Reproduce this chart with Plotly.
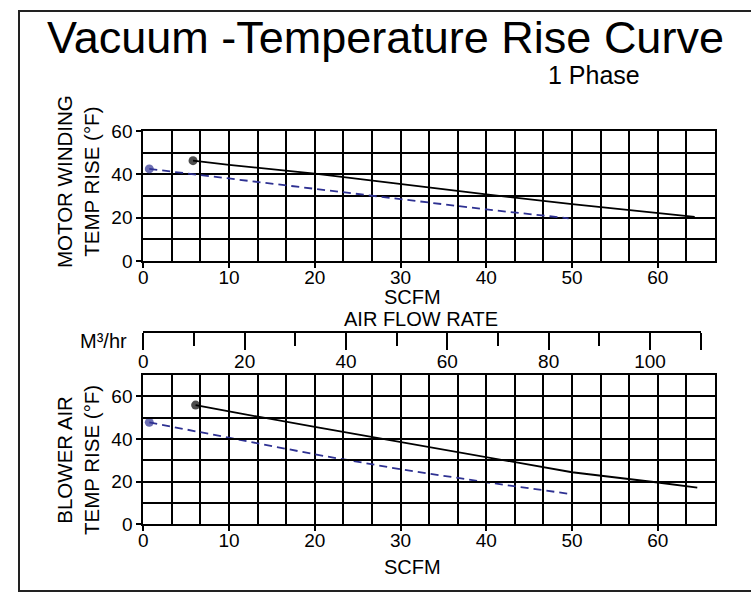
import plotly.graph_objects as go

# ---------------- data ----------------
motor_scfm_1ph = [5.8, 10, 20, 30, 40, 50, 60, 64.3]
motor_temp_1ph = [46.3, 44.4, 40.3, 35.5, 30.7, 26.3, 22.3, 20.4]
motor_scfm_blue = [0.7, 10, 20, 30, 40, 49.6]
motor_temp_blue = [42.5, 38.0, 33.2, 28.6, 23.8, 19.7]

blower_scfm_1ph = [6.1, 10, 20, 30, 40, 50, 60, 64.6]
blower_temp_1ph = [55.9, 52.9, 45.7, 38.7, 31.7, 24.4, 19.6, 17.2]
blower_scfm_blue = [0.7, 10, 20, 30, 40, 50]
blower_temp_blue = [47.8, 40.6, 32.8, 25.8, 19.7, 14.1]

scfm_ticks = [0, 10, 20, 30, 40, 50, 60]
motor_temp_ticks = [0, 20, 40, 60]
blower_temp_ticks = [0, 20, 40, 60]
m3hr_ticks = [0, 20, 40, 60, 80, 100, 110]
m3hr_ticktext = ["0", "20", "40", "60", "80", "100", ""]

W, H = 751, 593
FONT = "Liberation Sans, Arial, sans-serif"
BLUE = "#2e3192"


def px(x):
    return x / W


def py(y):
    return 1 - y / H


def sizes(n):
    return [9] + [0] * (n - 1)


fig = go.Figure()

def add_series(xs, ys, color, dash, xa, ya):
    fig.add_trace(go.Scatter(
        x=xs, y=ys, xaxis=xa, yaxis=ya, mode="lines+markers",
        line=dict(color=color, width=1.8, dash=dash),
        marker=dict(color=color, size=sizes(len(xs)), line=dict(width=0)),
        showlegend=False, hoverinfo="skip"))

add_series(motor_scfm_blue, motor_temp_blue, BLUE, "8px,5px", "x", "y")
add_series(motor_scfm_1ph, motor_temp_1ph, "black", "solid", "x", "y")
add_series(blower_scfm_blue, blower_temp_blue, BLUE, "8px,5px", "x2", "y2")
add_series(blower_scfm_1ph, blower_temp_1ph, "black", "solid", "x2", "y2")

# invisible trace so the M3/hr axis is drawn
fig.add_trace(go.Scatter(x=[m3hr_ticks[0], m3hr_ticks[-1]], y=[0, 0], xaxis="x3", yaxis="y2",
                         mode="markers", marker=dict(opacity=0), showlegend=False, hoverinfo="skip"))

tick_font = dict(family=FONT, size=19, color="black")

def xax(domain, anchor):
    return dict(domain=domain, anchor=anchor, range=[0, 200 / 3], tickmode="array", tickvals=scfm_ticks,
                ticks="outside", ticklen=5, tickwidth=2, tickcolor="black",
                showgrid=True, gridcolor="black", gridwidth=2,
                minor=dict(dtick=10 / 3, tick0=0, showgrid=True, gridcolor="black", gridwidth=2),
                showline=True, mirror=True, linecolor="black", linewidth=2, zeroline=False,
                tickfont=tick_font, ticklabelstandoff=-7, automargin=False)

def yax(domain, anchor, rng, tv):
    return dict(domain=domain, anchor=anchor, range=rng, tickmode="array", tickvals=tv,
                ticks="outside", ticklen=5, tickwidth=2, tickcolor="black",
                showgrid=True, gridcolor="black", gridwidth=2,
                minor=dict(dtick=10, tick0=0, showgrid=True, gridcolor="black", gridwidth=2),
                showline=True, mirror=True, linecolor="black", linewidth=2, zeroline=False,
                tickfont=tick_font, ticklabelstandoff=0, automargin=False)

xdom = [px(143.3), px(715)]
fig.update_layout(
    template="none",
    width=W, height=H, margin=dict(l=0, r=0, t=0, b=0, pad=0), autosize=False,
    paper_bgcolor="white", plot_bgcolor="rgba(0,0,0,0)",
    font=dict(family=FONT, color="black"),
    xaxis=xax(xdom, "y"),
    yaxis=yax([py(261), py(131)], "x", [0, 60], motor_temp_ticks),
    xaxis2=xax(xdom, "y2"),
    yaxis2=yax([py(524.3), py(375)], "x2", [0, 70], blower_temp_ticks),
    xaxis3=dict(domain=[px(143.3), px(700.7)], anchor="free", position=py(331.7), side="bottom",
                range=[0, 110], tickmode="array", tickvals=m3hr_ticks, ticktext=m3hr_ticktext,
                ticks="outside", ticklen=17, tickwidth=2, tickcolor="black",
                minor=dict(dtick=10, tick0=0, ticks="outside", ticklen=13, tickwidth=2, tickcolor="black"),
                showgrid=False, showline=True, linecolor="black", linewidth=2, zeroline=False,
                tickfont=tick_font, ticklabelstandoff=-5, automargin=False),
    showlegend=False,
)

def ann(text, x, y, size, angle=0):
    fig.add_annotation(text=text, x=px(x), y=py(y), xref="paper", yref="paper",
                       xanchor="center", yanchor="middle", showarrow=False, textangle=angle,
                       font=dict(family=FONT, size=size, color="black"))

ann("Vacuum -Temperature Rise Curve", 385, 37, 45)
ann("1 Phase", 594, 75, 25)
ann("MOTOR WINDING<br>TEMP RISE (°F)", 78, 182, 20.5, -90)
ann("BLOWER AIR<br>TEMP RISE (°F)", 78, 460, 20.5, -90)
ann("SCFM", 412, 297, 20)
ann("SCFM", 412, 567, 20)
ann("AIR FLOW RATE", 421, 319, 20)
ann("M³/hr", 104, 341, 20)

fig.add_shape(type="rect", xref="paper", yref="paper", x0=px(19), y0=py(591), x1=px(760), y1=py(11),
              line=dict(color="#222222", width=2), layer="below")

fig.write_html("out.html", config={"displayModeBar": False},
               post_script="document.body.style.margin='0';document.body.style.overflow='hidden';")
